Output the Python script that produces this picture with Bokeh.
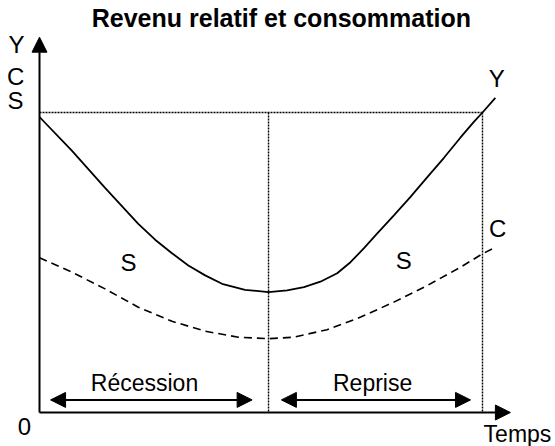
from bokeh.plotting import figure
from bokeh.models import Range1d, Arrow, NormalHead, ColumnDataSource
from bokeh.core.properties import value
from bokeh.embed import file_html
from bokeh.resources import INLINE

# Income curve Y (time, level)
y_time = [0.0, 0.73, 1.48, 2.23, 2.61, 2.99, 3.36, 3.74, 4.12, 4.64, 5.17, 5.59, 5.97, 6.34,
          6.72, 7.02, 7.32, 7.62, 8.0, 8.37, 8.75, 9.13, 9.5, 9.8, 10.0, 10.29]
y_level = [98.5, 87.3, 74.9, 62.9, 57.6, 53.1, 49.0, 45.7, 42.9, 40.9, 40.1, 40.7, 41.8, 43.6,
           46.4, 50.1, 54.7, 59.6, 65.7, 71.8, 78.4, 84.9, 91.6, 96.8, 100.0, 104.9]
# Consumption curve C
c_time = [0.0, 0.73, 1.48, 2.23, 2.99, 3.74, 4.49, 5.17, 5.74, 6.49, 7.25, 8.0, 8.75, 9.5, 10.0, 10.29]
c_level = [51.6, 46.8, 41.2, 35.1, 30.4, 27.1, 25.1, 24.6, 25.1, 27.6, 31.8, 36.8, 42.3, 48.4, 52.9, 55.1]

# Phase boundaries
t_start, t_trough, t_end = 0.0, 5.17, 10.0
peak_level = 100.0
phase_labels = ["Récession", "Reprise"]
phase_label_t = [2.37, 7.52]
phase_arrow_start = [0.25, 5.46]
phase_arrow_end = [4.80, 9.73]
phase_arrow_level = 4.2

W, H = 555, 446
p = figure(width=W, height=H, output_backend="svg", toolbar_location=None,
           x_range=Range1d(-0.8804, 11.648), y_range=Range1d(-11.333, 137.333),
           min_border=0, outline_line_color=None)
p.axis.visible = False
p.grid.visible = False
p.background_fill_color = "white"
p.border_fill_color = "white"

# dotted reference lines
dot = dict(line_color="black", line_width=1.4, line_dash="2 1")
p.line([t_start, t_end], [peak_level, peak_level], **dot)
p.line([t_trough, t_trough], [peak_level, 0], **dot)
p.line([t_end, t_end], [peak_level, 0], **dot)

# curves
p.line(y_time, y_level, line_color="black", line_width=1.8)
p.line(c_time, c_level, line_color="black", line_width=1.6, line_dash="8 5")

# axes with arrows
p.add_layout(Arrow(x_start=0, y_start=0, x_end=0, y_end=125.1, line_width=2,
                   end=NormalHead(size=15, fill_color="black", line_color="black")))
p.add_layout(Arrow(x_start=0, y_start=0, x_end=10.63, y_end=0, line_width=2,
                   end=NormalHead(size=15, fill_color="black", line_color="black")))

# phase arrows
for a, b in zip(phase_arrow_start, phase_arrow_end):
    p.add_layout(Arrow(x_start=a, y_start=phase_arrow_level, x_end=b, y_end=phase_arrow_level,
                       line_width=2,
                       start=NormalHead(size=15, fill_color="black", line_color="black"),
                       end=NormalHead(size=15, fill_color="black", line_color="black")))

font = value("Liberation Sans")
letters = ColumnDataSource(dict(
    x=[-0.52, -0.54, -0.54, -0.34, 10.32, 10.34, 2.01, 8.22],
    y=[122.7, 112.0, 104.0, -4.7, 111.3, 61.3, 50.0, 50.7],
    t=["Y", "C", "S", "0", "Y", "C", "S", "S"],
))
p.text(x="x", y="y", text="t", source=letters, text_font=font, text_font_size="24px",
       text_align="center", text_baseline="middle", text_color="black")

words = ColumnDataSource(dict(
    x=[10.79] + phase_label_t,
    y=[-7.3, 9.7, 9.7],
    t=["Temps"] + phase_labels,
))
p.text(x="x", y="y", text="t", source=words, text_font=font, text_font_size="23px",
       text_align="center", text_baseline="middle", text_color="black")

p.text(x=[5.46], y=[131.5], text=["Revenu relatif et consommation"], text_font=font,
       text_font_size="25px", text_font_style="bold", text_align="center",
       text_baseline="middle", text_color="black")

open("out.html", "w").write(file_html(p, INLINE))
